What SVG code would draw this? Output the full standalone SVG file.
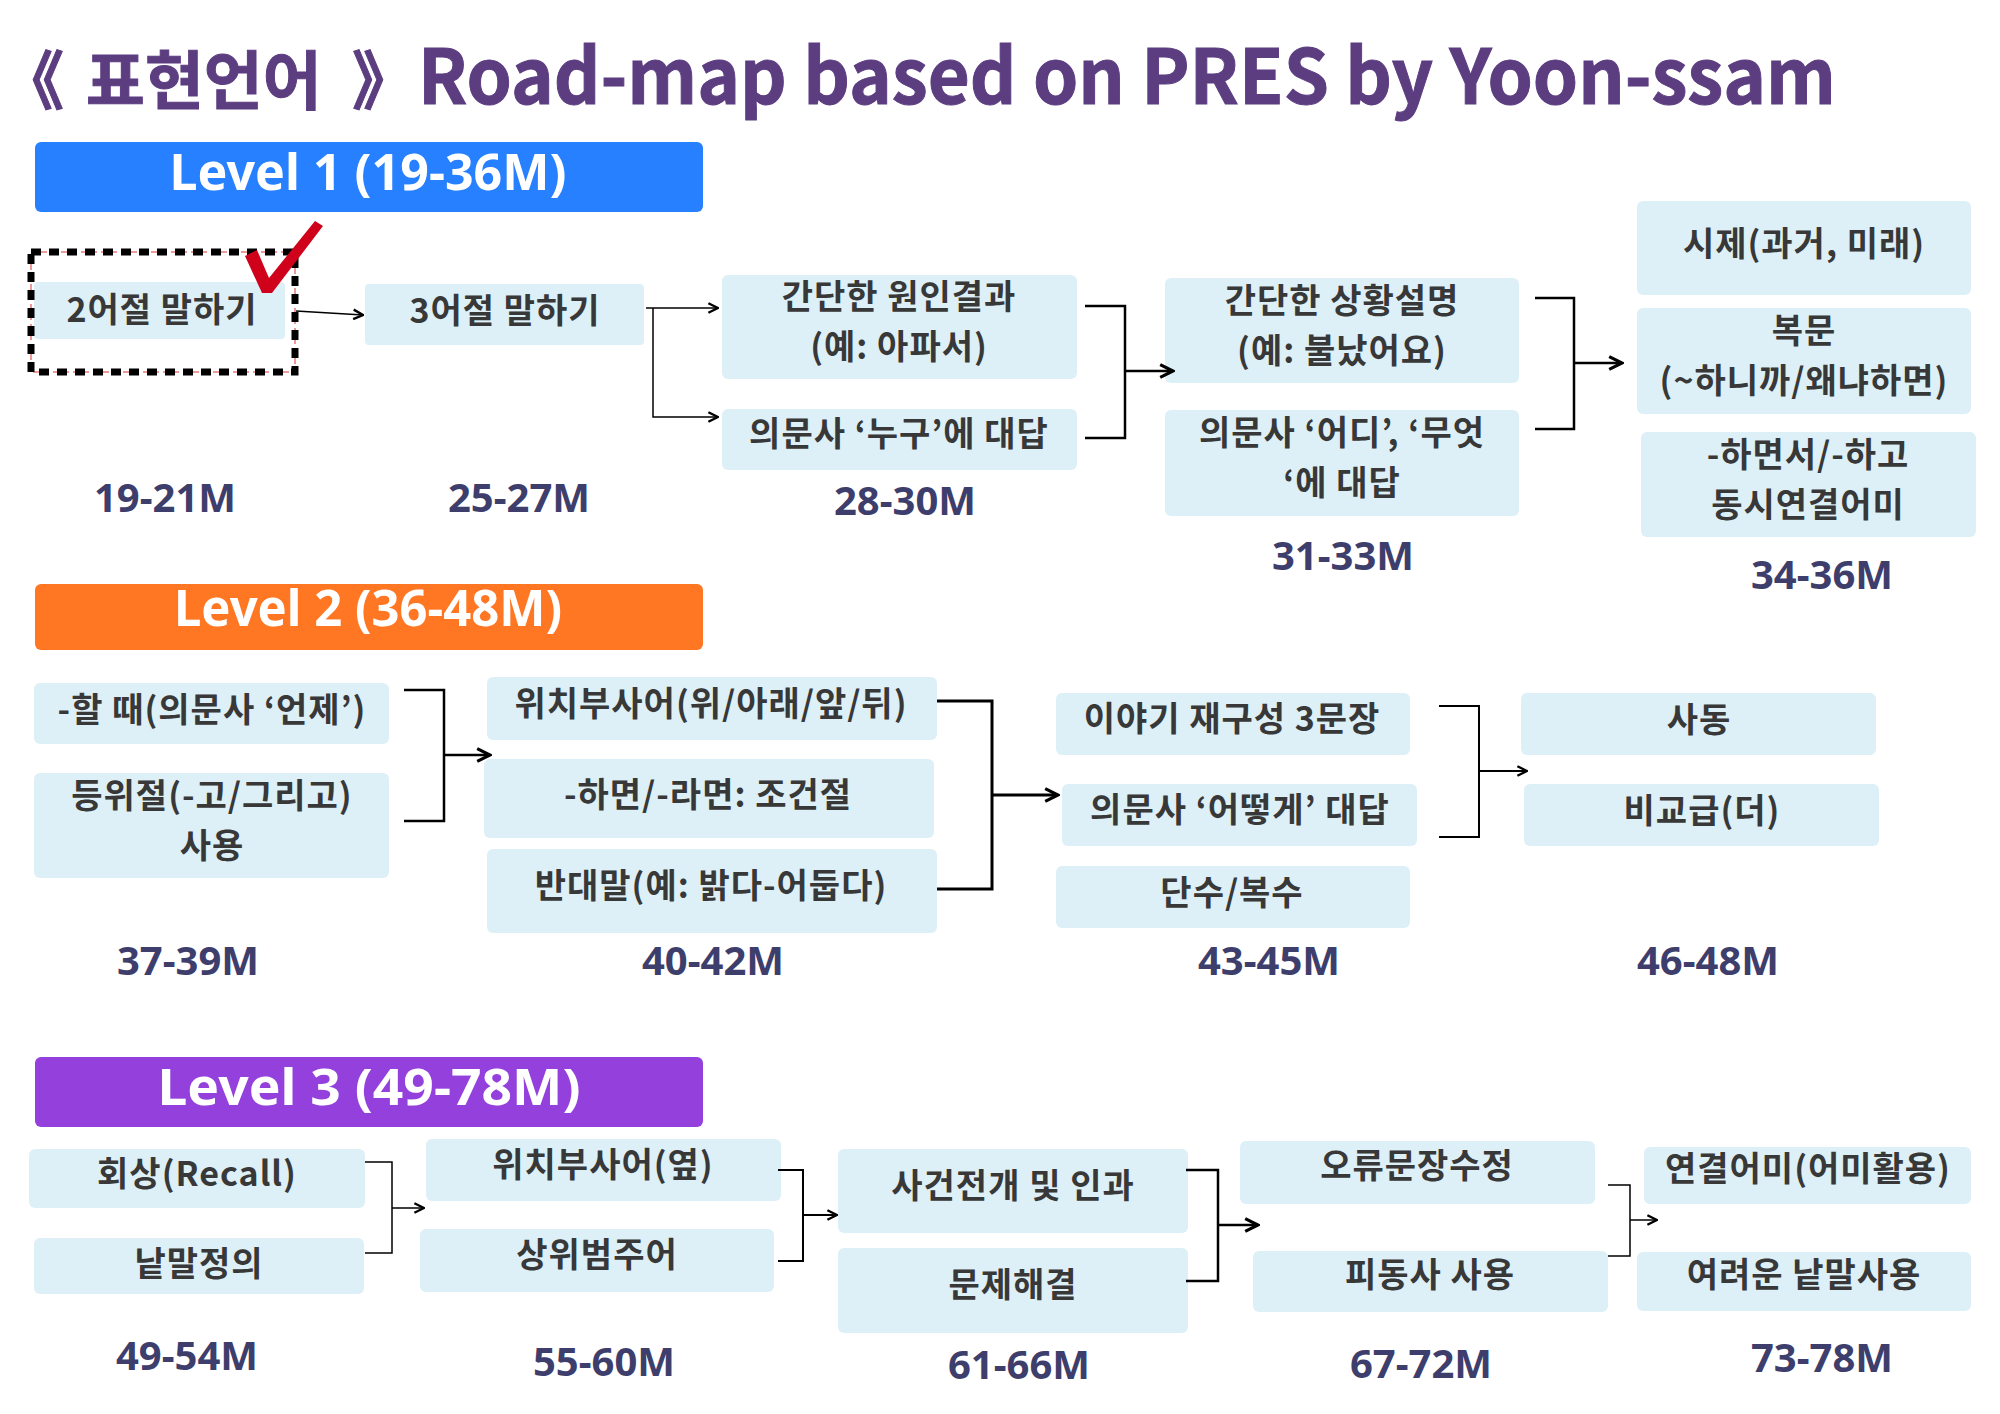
<svg xmlns="http://www.w3.org/2000/svg" width="2000" height="1414" viewBox="0 0 2000 1414">
<defs>
<style>
.bg{fill:#ffffff}
.title{font-family:"Noto Sans CJK KR","Noto Sans",sans-serif;font-weight:700;font-size:76px;fill:#5C3D80;stroke:#5C3D80;stroke-width:1}
.tk{font-size:64px}
.lvl{font-family:"Noto Sans","Noto Sans CJK KR",sans-serif;font-weight:700;font-size:50px;fill:#ffffff;text-anchor:middle}
.box{fill:#DDF0F7}
.t{font-family:"Noto Sans CJK KR","Noto Sans",sans-serif;font-weight:700;font-size:34px;letter-spacing:1px;fill:#383838;text-anchor:middle}
.age{font-family:"Noto Sans","Noto Sans CJK KR",sans-serif;font-weight:700;font-size:40px;fill:#3E3E6C;text-anchor:middle}
.c{fill:none;stroke:#000000;stroke-linejoin:miter}
</style>
<marker id="arr" viewBox="0 0 10 10" refX="9" refY="5" markerWidth="12" markerHeight="12" markerUnits="userSpaceOnUse" orient="auto">
<path d="M1,1 L9,5 L1,9" fill="none" stroke="#000" stroke-width="2"/>
</marker>
<marker id="arrL" viewBox="0 0 10 10" refX="9" refY="5" markerWidth="16" markerHeight="16" markerUnits="userSpaceOnUse" orient="auto">
<path d="M1,1 L9,5 L1,9" fill="none" stroke="#000" stroke-width="2"/>
</marker>
</defs>
<rect class="bg" x="0" y="0" width="2000" height="1414"/>

<g id="title">
<text class="title tk" x="0" y="104">《</text>
<text class="title tk" x="86" y="104">표현언어</text>
<text class="title tk" x="352" y="104">》</text>
<text class="title" x="418" y="104" textLength="1418" lengthAdjust="spacingAndGlyphs">Road-map based on PRES by Yoon-ssam</text>
</g>

<g id="level1">
<rect x="35" y="142" width="668" height="70" rx="6" fill="#2680FF"/>
<text class="lvl" x="368" y="190" textLength="397" lengthAdjust="spacingAndGlyphs">Level 1 (19-36M)</text>
</g>
<g id="level2">
<rect x="35" y="584" width="668" height="66" rx="6" fill="#FF7722"/>
<text class="lvl" x="368" y="626" textLength="388" lengthAdjust="spacingAndGlyphs">Level 2 (36-48M)</text>
</g>
<g id="level3">
<rect x="35" y="1057" width="668" height="70" rx="6" fill="#9440DD"/>
<text class="lvl" x="369" y="1105" textLength="423" lengthAdjust="spacingAndGlyphs">Level 3 (49-78M)</text>
</g>

<!-- Level 1 nodes -->
<g id="n-2word">
<rect class="box" x="34" y="282" width="251" height="57" rx="4"/>
<rect x="31" y="252" width="264" height="120" fill="none" stroke="#D33" stroke-width="1" stroke-dasharray="6 4"/>
<rect x="31" y="252" width="264" height="120" fill="none" stroke="#000" stroke-width="7" stroke-dasharray="10 8"/>
<path d="M245,256 L257,250 L269,278 L315,221 L323,226 L272,293 L262,293 Z" fill="#D0021B"/>
<text class="t" x="162" y="322">2어절 말하기</text>
</g>
<g id="n-3word">
<rect class="box" x="365" y="284" width="279" height="61" rx="4"/>
<text class="t" x="505" y="323">3어절 말하기</text>
</g>
<g id="n-cause">
<rect class="box" x="722" y="275" width="355" height="104" rx="6"/>
<text class="t" x="899" y="309">간단한 원인결과</text>
<text class="t" x="899" y="359">(예: 아파서)</text>
</g>
<g id="n-who">
<rect class="box" x="722" y="409" width="355" height="61" rx="6"/>
<text class="t" x="899" y="446">의문사 ‘누구’에 대답</text>
</g>
<g id="n-situation">
<rect class="box" x="1165" y="278" width="354" height="105" rx="6"/>
<text class="t" x="1342" y="313">간단한 상황설명</text>
<text class="t" x="1342" y="363">(예: 불났어요)</text>
</g>
<g id="n-where">
<rect class="box" x="1165" y="410" width="354" height="106" rx="6"/>
<text class="t" x="1342" y="445">의문사 ‘어디’, ‘무엇</text>
<text class="t" x="1342" y="495">‘에 대답</text>
</g>
<g id="n-tense">
<rect class="box" x="1637" y="201" width="334" height="94" rx="6"/>
<text class="t" x="1804" y="256">시제(과거, 미래)</text>
</g>
<g id="n-complex">
<rect class="box" x="1637" y="308" width="334" height="106" rx="6"/>
<text class="t" x="1804" y="343">복문</text>
<text class="t" x="1804" y="393">(~하니까/왜냐하면)</text>
</g>
<g id="n-simul">
<rect class="box" x="1641" y="432" width="335" height="105" rx="6"/>
<text class="t" x="1808" y="467">-하면서/-하고</text>
<text class="t" x="1808" y="517">동시연결어미</text>
</g>

<!-- Level 2 nodes -->
<g id="n-when">
<rect class="box" x="34" y="683" width="355" height="61" rx="6"/>
<text class="t" x="212" y="722">-할 때(의문사 ‘언제’)</text>
</g>
<g id="n-coord">
<rect class="box" x="34" y="773" width="355" height="105" rx="6"/>
<text class="t" x="212" y="808">등위절(-고/그리고)</text>
<text class="t" x="212" y="858">사용</text>
</g>
<g id="n-position">
<rect class="box" x="487" y="677" width="450" height="63" rx="6"/>
<text class="t" x="711" y="716">위치부사어(위/아래/앞/뒤)</text>
</g>
<g id="n-cond">
<rect class="box" x="484" y="759" width="450" height="79" rx="6"/>
<text class="t" x="708" y="807">-하면/-라면: 조건절</text>
</g>
<g id="n-antonym">
<rect class="box" x="487" y="849" width="450" height="84" rx="6"/>
<text class="t" x="711" y="898">반대말(예: 밝다-어둡다)</text>
</g>
<g id="n-story">
<rect class="box" x="1056" y="693" width="354" height="62" rx="6"/>
<text class="t" x="1232" y="731">이야기 재구성 3문장</text>
</g>
<g id="n-how">
<rect class="box" x="1062" y="784" width="355" height="62" rx="6"/>
<text class="t" x="1240" y="822">의문사 ‘어떻게’ 대답</text>
</g>
<g id="n-plural">
<rect class="box" x="1056" y="866" width="354" height="62" rx="6"/>
<text class="t" x="1232" y="905">단수/복수</text>
</g>
<g id="n-causative">
<rect class="box" x="1521" y="693" width="355" height="62" rx="6"/>
<text class="t" x="1699" y="732">사동</text>
</g>
<g id="n-compare">
<rect class="box" x="1524" y="784" width="355" height="62" rx="6"/>
<text class="t" x="1702" y="823">비교급(더)</text>
</g>

<!-- Level 3 nodes -->
<g id="n-recall">
<rect class="box" x="29" y="1149" width="336" height="59" rx="6"/>
<text class="t" x="197" y="1186">회상(Recall)</text>
</g>
<g id="n-define">
<rect class="box" x="34" y="1238" width="330" height="56" rx="6"/>
<text class="t" x="199" y="1276">낱말정의</text>
</g>
<g id="n-beside">
<rect class="box" x="426" y="1139" width="355" height="62" rx="6"/>
<text class="t" x="603" y="1177">위치부사어(옆)</text>
</g>
<g id="n-category">
<rect class="box" x="420" y="1229" width="354" height="63" rx="6"/>
<text class="t" x="597" y="1267">상위범주어</text>
</g>
<g id="n-event">
<rect class="box" x="838" y="1149" width="350" height="84" rx="6"/>
<text class="t" x="1013" y="1198">사건전개 및 인과</text>
</g>
<g id="n-problem">
<rect class="box" x="838" y="1248" width="350" height="85" rx="6"/>
<text class="t" x="1013" y="1297">문제해결</text>
</g>
<g id="n-error">
<rect class="box" x="1240" y="1141" width="355" height="63" rx="6"/>
<text class="t" x="1417" y="1178">오류문장수정</text>
</g>
<g id="n-passive">
<rect class="box" x="1253" y="1251" width="355" height="61" rx="6"/>
<text class="t" x="1430" y="1287">피동사 사용</text>
</g>
<g id="n-ending">
<rect class="box" x="1644" y="1147" width="327" height="57" rx="6"/>
<text class="t" x="1808" y="1181">연결어미(어미활용)</text>
</g>
<g id="n-hardword">
<rect class="box" x="1637" y="1252" width="334" height="59" rx="6"/>
<text class="t" x="1804" y="1287">여려운 낱말사용</text>
</g>

<g id="ages">
<text class="age" x="165" y="512">19-21M</text>
<text class="age" x="519" y="512">25-27M</text>
<text class="age" x="905" y="515">28-30M</text>
<text class="age" x="1343" y="570">31-33M</text>
<text class="age" x="1822" y="589">34-36M</text>
<text class="age" x="188" y="975">37-39M</text>
<text class="age" x="713" y="975">40-42M</text>
<text class="age" x="1269" y="975">43-45M</text>
<text class="age" x="1708" y="975">46-48M</text>
<text class="age" x="187" y="1370">49-54M</text>
<text class="age" x="604" y="1376">55-60M</text>
<text class="age" x="1019" y="1379">61-66M</text>
<text class="age" x="1421" y="1378">67-72M</text>
<text class="age" x="1822" y="1372">73-78M</text>
</g>

<g id="connectors">
<path class="c" stroke-width="1.5" d="M296,311 L363,315" marker-end="url(#arr)"/>
<path class="c" stroke-width="1.5" d="M646,308 L718,308" marker-end="url(#arr)"/>
<path class="c" stroke-width="1.5" d="M653,308 L653,417 L718,417" marker-end="url(#arr)"/>
<path class="c" stroke-width="2.5" d="M1085,306 L1125,306 L1125,438 L1085,438"/>
<path class="c" stroke-width="2.5" d="M1125,371 L1173,371" marker-end="url(#arrL)"/>
<path class="c" stroke-width="2.5" d="M1535,298 L1574,298 L1574,429 L1535,429"/>
<path class="c" stroke-width="2.5" d="M1574,363 L1622,363" marker-end="url(#arrL)"/>

<path class="c" stroke-width="2.5" d="M404,690 L444,690 L444,821 L404,821"/>
<path class="c" stroke-width="2.5" d="M444,755 L490,755" marker-end="url(#arrL)"/>
<path class="c" stroke-width="3" d="M937,701 L992,701 L992,889 L937,889"/>
<path class="c" stroke-width="3" d="M992,795 L1058,795" marker-end="url(#arrL)"/>
<path class="c" stroke-width="2" d="M1439,706 L1479,706 L1479,837 L1439,837"/>
<path class="c" stroke-width="2" d="M1479,771 L1527,771" marker-end="url(#arr)"/>

<path class="c" stroke-width="1.5" d="M365,1162 L392,1162 L392,1253 L365,1253"/>
<path class="c" stroke-width="1.5" d="M392,1208 L424,1208" marker-end="url(#arr)"/>
<path class="c" stroke-width="2" d="M778,1170 L803,1170 L803,1261 L778,1261"/>
<path class="c" stroke-width="2" d="M803,1215 L837,1215" marker-end="url(#arr)"/>
<path class="c" stroke-width="2.5" d="M1186,1170 L1218,1170 L1218,1281 L1186,1281"/>
<path class="c" stroke-width="2.5" d="M1218,1225 L1258,1225" marker-end="url(#arrL)"/>
<path class="c" stroke-width="1.5" d="M1608,1185 L1630,1185 L1630,1256 L1608,1256"/>
<path class="c" stroke-width="1.5" d="M1630,1220 L1657,1220" marker-end="url(#arr)"/>
</g>
</svg>
